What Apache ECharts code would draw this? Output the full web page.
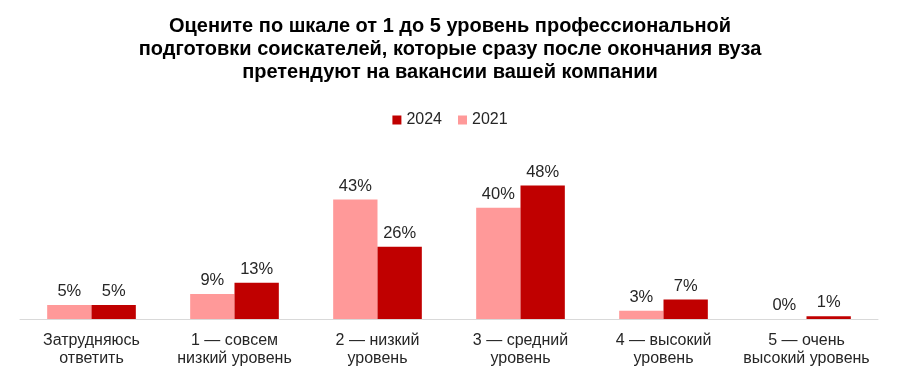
<!DOCTYPE html>
<html><head><meta charset="utf-8">
<script src="https://cdn.jsdelivr.net/npm/echarts@6/dist/echarts.min.js"></script>
<style>html,body{margin:0;padding:0;background:#fff}#c{width:900px;height:383px}</style>
</head><body><div id="c"></div>
<script>
const categories = ['Затрудняюсь\nответить','1 — совсем\nнизкий уровень','2 — низкий\nуровень','3 — средний\nуровень','4 — высокий\nуровень','5 — очень\nвысокий уровень'];
const values2021 = [5, 9, 43, 40, 3, 0];
const values2024 = [5, 13, 26, 48, 7, 1];
const titleText = 'Оцените по шкале от 1 до 5 уровень профессиональной\nподготовки соискателей, которые сразу после окончания вуза\nпретендуют на вакансии вашей компании';

const chart = echarts.init(document.getElementById('c'), null, {renderer:'canvas'});
const lbl = {show:true, position:'top', distance:5, formatter:'{c}%', fontFamily:'Liberation Sans, Arial', fontSize:16.5, color:'#262626'};
chart.setOption({
  animation:false,
  title:{text:titleText, left:'center', top:10, textStyle:{fontFamily:'Liberation Sans, Arial', fontWeight:'bold', fontSize:20, lineHeight:23, color:'#000'}},
  legend:{top:107, left:'center', itemWidth:9, itemHeight:9, itemGap:16, icon:'rect',
    textStyle:{fontFamily:'Liberation Sans, Arial', fontSize:16, color:'#262626'},
    data:['2024','2021']},
  grid:{left:20, right:22, top:180, bottom:64, containLabel:false},
  xAxis:{type:'category', data:categories, axisTick:{show:false},
    axisLine:{lineStyle:{color:'#d9d9d9', width:1}},
    axisLabel:{interval:0, fontFamily:'Liberation Sans, Arial', fontSize:16, lineHeight:18.5, color:'#262626', margin:12}},
  yAxis:{type:'value', min:0, max:50, show:false, splitLine:{show:false}},
  series:[
    {name:'2021', type:'bar', data:values2021, barGap:'0%', barCategoryGap:'38%', itemStyle:{color:'#FF9999'}, label:lbl},
    {name:'2024', type:'bar', data:values2024, barGap:'0%', barCategoryGap:'38%', itemStyle:{color:'#C00000'}, label:lbl}
  ]
});
</script></body></html>
